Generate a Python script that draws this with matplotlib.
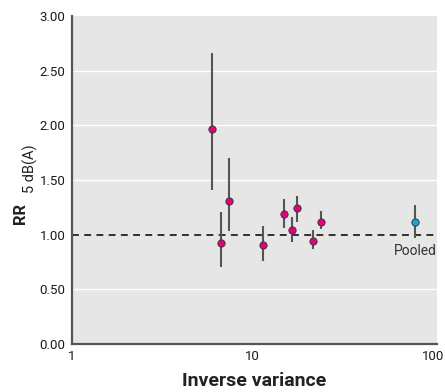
import matplotlib
matplotlib.use("Agg")
import matplotlib.pyplot as plt
from matplotlib.transforms import Affine2D

# Study-level relative risks per 5 dB(A), with 95% CI, against inverse variance
inv_var = [5.97, 6.69, 7.38, 11.4, 14.9, 16.6, 17.7, 21.6, 23.8]
rr = [1.97, 0.92, 1.31, 0.91, 1.19, 1.04, 1.24, 0.945, 1.12]
ci_low = [1.41, 0.70, 1.03, 0.755, 1.06, 0.93, 1.115, 0.87, 1.05]
ci_high = [2.66, 1.21, 1.70, 1.08, 1.33, 1.16, 1.35, 1.04, 1.215]

# Pooled estimate
pooled_x = 79.8
pooled_rr = 1.12
pooled_low = 0.97
pooled_high = 1.27
pooled_label = "Pooled"

y_ticks = [0.0, 0.5, 1.0, 1.5, 2.0, 2.5, 3.0]
x_ticks = [1, 10, 100]
x_ticklabels = ["1", "10", "100"]

FAM = ["Roboto", "DejaVu Sans"]
plt.rcParams["font.family"] = FAM

W, H = 445, 392
fig = plt.figure(figsize=(W / 100, H / 100), dpi=100)
ax = fig.add_axes([72 / W, 1 - 344 / H, 365 / W, 328 / H])
ax.set_facecolor("#e6e6e6")

ax.set_xscale("log")
ax.set_xlim(1, 105)
ax.set_ylim(0, 3)

# white horizontal gridlines
for yv in y_ticks:
    if yv not in (0.0, 1.0, 3.0):
        ax.axhline(yv, color="white", lw=1.0, zorder=1)

# reference line at RR = 1
ax.axhline(1.0, color="black", lw=1.1, ls=(0, (4.5, 3.5)), zorder=2)

err_col = "#555555"
ax.vlines(inv_var, ci_low, ci_high, color=err_col, lw=1.5, zorder=3)
ax.vlines([pooled_x], [pooled_low], [pooled_high], color=err_col, lw=1.5, zorder=3)

ax.plot(inv_var, rr, "o", ms=5.2, mfc="#e5007d", mec="#3a3a3a", mew=0.7, zorder=4)
ax.plot([pooled_x], [pooled_rr], "o", ms=5.2, mfc="#10a6e0", mec="#3a3a3a", mew=0.7, zorder=4)

ax.text(pooled_x, 0.85, pooled_label, ha="center", va="center",
        fontsize=10, color="#333333")

ax.set_yticks(y_ticks)
ax.set_yticklabels([f"{v:.2f}" for v in y_ticks])
ax.set_xticks(x_ticks)
ax.set_xticklabels(x_ticklabels)
ax.xaxis.set_minor_locator(matplotlib.ticker.NullLocator())
ax.tick_params(axis="both", length=0, labelsize=9.5, colors="#1a1a1a")
ax.tick_params(axis="y", pad=4.5)
ax.tick_params(axis="x", pad=4)

for s in ("top", "right"):
    ax.spines[s].set_visible(False)
for s in ("left", "bottom"):
    ax.spines[s].set_color("#555555")
    ax.spines[s].set_linewidth(1.6)

ax.set_xlabel("Inverse variance", fontsize=14, fontweight="bold", color="#222222", labelpad=7)

# y-axis title: bold "RR" with a subscript, placed in pixel coordinates
px = Affine2D().scale(1.0, -1.0).translate(0, H)
fig.text(21, 213, "RR", transform=px, rotation=90, ha="center", va="center",
         fontsize=12, fontweight="bold", color="#222222")
fig.text(30, 169, "5 dB(A)", transform=px, rotation=90, ha="center", va="center",
         fontsize=10.5, color="#222222")

fig.savefig("out.png", dpi=100)
